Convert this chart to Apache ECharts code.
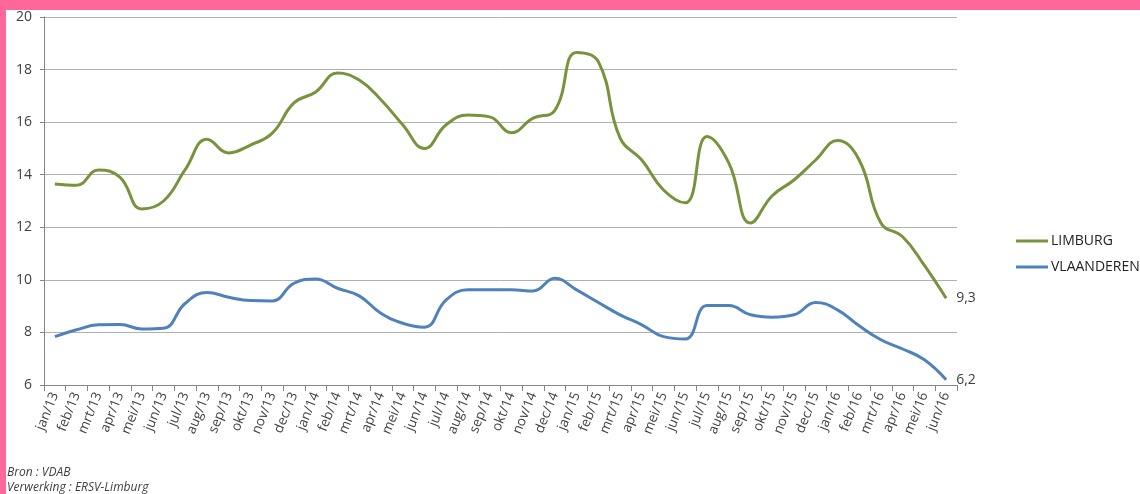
<!DOCTYPE html>
<html><head><meta charset="utf-8">
<script src="https://cdn.jsdelivr.net/npm/echarts@6/dist/echarts.min.js"></script>
<style>html,body{margin:0;padding:0;background:#fff}#c{width:1140px;height:494px}</style>
</head><body><div id="c"></div>
<script>
const categories = ['jan/13','feb/13','mrt/13','apr/13','mei/13','jun/13','jul/13','aug/13','sep/13','okt/13','nov/13','dec/13',
'jan/14','feb/14','mrt/14','apr/14','mei/14','jun/14','jul/14','aug/14','sep/14','okt/14','nov/14','dec/14',
'jan/15','feb/15','mrt/15','apr/15','mei/15','jun/15','jul/15','aug/15','sep/15','okt/15','nov/15','dec/15',
'jan/16','feb/16','mrt/16','apr/16','mei/16','jun/16'];
const limburg = [13.65,13.6,14.18,13.9,12.7,13.0,14.2,15.35,14.83,15.13,15.58,16.73,
17.15,17.87,17.6,16.85,15.9,15.0,15.9,16.27,16.2,15.6,16.15,16.45,
18.65,18.3,15.4,14.56,13.42,12.93,15.45,14.45,12.16,13.2,13.8,14.56,
15.3,14.56,12.16,11.64,10.55,9.3];
const vlaanderen = [7.84,8.1,8.29,8.3,8.13,8.16,9.11,9.52,9.34,9.21,9.2,9.87,
10.03,9.68,9.39,8.73,8.35,8.2,9.24,9.62,9.62,9.62,9.58,10.06,
9.62,9.14,8.67,8.29,7.84,7.75,9.02,9.02,8.67,8.58,8.67,9.14,
8.86,8.25,7.72,7.37,6.96,6.2];
const yTicks = {min:6, max:20, interval:2};
const txt = '#404040';
const chart = echarts.init(document.getElementById('c'), null, {renderer:'canvas'});
const endLab = {show:true, formatter:p=>String(p.value).replace('.',','), color:txt, fontSize:14, fontFamily:'Open Sans', distance:10};
chart.setOption({
  animation:false,
  textStyle:{fontFamily:'Open Sans'},
  graphic:[
    {type:'rect', shape:{x:0,y:0,width:1140,height:10}, style:{fill:'#ff6699'}, z:100},
    {type:'rect', shape:{x:0,y:0,width:6,height:494}, style:{fill:'#ff6699'}, z:100},
    {type:'text', left:7, top:465, style:{text:'Bron : VDAB\nVerwerking : ERSV-Limburg', fill:txt, font:'italic 12px "Open Sans"', lineHeight:15}}
  ],
  grid:{left:44, right:183, top:17, bottom:109, containLabel:false},
  legend:{orient:'vertical', left:1011, top:229, itemGap:12, itemWidth:32, itemHeight:3,
    icon:'rect', textStyle:{color:'#222', fontSize:14, fontFamily:'Open Sans', padding:[0,0,0,-2]},
    data:['LIMBURG','VLAANDEREN']},
  xAxis:{type:'category', data:categories, boundaryGap:true,
    axisLine:{lineStyle:{color:'#868686'}},
    axisTick:{show:true, length:6, lineStyle:{color:'#868686'}},
    axisLabel:{rotate:68, color:txt, fontSize:13.5, margin:8, interval:0, fontFamily:'Open Sans'}},
  yAxis:{type:'value', min:yTicks.min, max:yTicks.max, interval:yTicks.interval,
    axisLine:{show:true, lineStyle:{color:'#868686'}},
    axisTick:{show:true, length:4, lineStyle:{color:'#868686'}},
    axisLabel:{color:txt, fontSize:14, margin:12, fontFamily:'Open Sans'},
    splitLine:{lineStyle:{color:'#b0b0b0', width:1}}},
  series:[
    {name:'LIMBURG', type:'line', data:limburg, smooth:0.45, symbol:'none',
      lineStyle:{color:'#77933C', width:3}, itemStyle:{color:'#77933C'}, endLabel:endLab},
    {name:'VLAANDEREN', type:'line', data:vlaanderen, smooth:0.45, symbol:'none',
      lineStyle:{color:'#4F81BD', width:3}, itemStyle:{color:'#4F81BD'}, endLabel:endLab}
  ]
});
</script></body></html>
